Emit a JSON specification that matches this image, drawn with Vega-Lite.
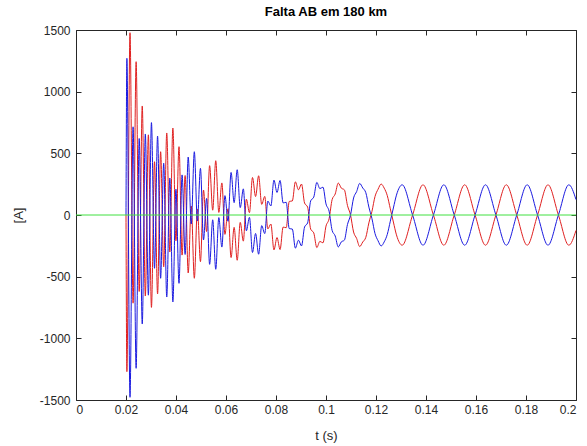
{
  "$schema": "https://vega.github.io/schema/vega-lite/v6.json",
  "width": 500,
  "height": 370,
  "autosize": {"type": "none"},
  "padding": {"left": 76, "top": 30, "right": 11, "bottom": 46},
  "background": "white",
  "config": {
    "view": {"stroke": "#262626", "strokeWidth": 1},
    "font": "Liberation Sans",
    "axis": {"grid": false, "domain": false, "tickColor": "#262626", "labelColor": "#262626", "titleColor": "#262626", "labelFontSize": 12, "titleFontSize": 13, "titleFontWeight": "normal", "tickSize": -5, "labelFont": "Liberation Sans", "titleFont": "Liberation Sans"}
  },
  "title": {"text": "Falta AB em 180 km", "fontSize": 13, "fontWeight": "bold", "color": "#000000", "offset": 5, "font": "Liberation Sans"},
  "data": {"values": [
    {"t": 0.02, "a": 0, "b": 0},
    {"t": 0.02035, "a": -1270, "b": 1270},
    {"t": 0.0216, "a": 1478, "b": -1478},
    {"t": 0.02283, "a": -715, "b": 715},
    {"t": 0.02405, "a": 1243, "b": -1243},
    {"t": 0.02528, "a": -620, "b": 620},
    {"t": 0.0265, "a": 884, "b": -884},
    {"t": 0.02773, "a": -657, "b": 657},
    {"t": 0.02895, "a": 650, "b": -650},
    {"t": 0.03018, "a": -749, "b": 749},
    {"t": 0.0314, "a": 432, "b": -432},
    {"t": 0.03263, "a": -640, "b": 640},
    {"t": 0.03385, "a": 513, "b": -513},
    {"t": 0.03508, "a": -420, "b": 420},
    {"t": 0.0363, "a": 665, "b": -665},
    {"t": 0.03753, "a": -300, "b": 300},
    {"t": 0.03875, "a": 705, "b": -705},
    {"t": 0.03998, "a": -209, "b": 209},
    {"t": 0.0412, "a": 554, "b": -554},
    {"t": 0.04243, "a": -325, "b": 325},
    {"t": 0.04365, "a": 320, "b": -320},
    {"t": 0.04488, "a": -470, "b": 470},
    {"t": 0.0461, "a": 73, "b": -73},
    {"t": 0.04733, "a": -513, "b": 513},
    {"t": 0.04855, "a": 49, "b": -49},
    {"t": 0.04978, "a": -378, "b": 378},
    {"t": 0.051, "a": 202, "b": -202},
    {"t": 0.05223, "a": -134, "b": 134},
    {"t": 0.05345, "a": 400, "b": -400},
    {"t": 0.05468, "a": 39, "b": -39},
    {"t": 0.0559, "a": 440, "b": -440},
    {"t": 0.05713, "a": 21, "b": -21},
    {"t": 0.05835, "a": 260, "b": -260},
    {"t": 0.05958, "a": -157, "b": 157},
    {"t": 0.0608, "a": 51, "b": -51},
    {"t": 0.06203, "a": -345, "b": 345},
    {"t": 0.06325, "a": -100, "b": 100},
    {"t": 0.06448, "a": -367, "b": 367},
    {"t": 0.0657, "a": -60, "b": 60},
    {"t": 0.06693, "a": -212, "b": 212},
    {"t": 0.06815, "a": 128, "b": -128},
    {"t": 0.06938, "a": 19, "b": -19},
    {"t": 0.0706, "a": 304, "b": -304},
    {"t": 0.07183, "a": 150, "b": -150},
    {"t": 0.07305, "a": 318, "b": -318},
    {"t": 0.07428, "a": 86, "b": -86},
    {"t": 0.0755, "a": 151, "b": -151},
    {"t": 0.07673, "a": -113, "b": 113},
    {"t": 0.07795, "a": -73, "b": 73},
    {"t": 0.07918, "a": -283, "b": 283},
    {"t": 0.0804, "a": -183, "b": 183},
    {"t": 0.08163, "a": -280, "b": 280},
    {"t": 0.08285, "a": -98, "b": 98},
    {"t": 0.08408, "a": -103, "b": 103},
    {"t": 0.0853, "a": 110, "b": -110},
    {"t": 0.08653, "a": 114, "b": -114},
    {"t": 0.08775, "a": 269, "b": -269},
    {"t": 0.08898, "a": 204, "b": -204},
    {"t": 0.0902, "a": 251, "b": -251},
    {"t": 0.09143, "a": 97, "b": -97},
    {"t": 0.09265, "a": 64, "b": -64},
    {"t": 0.09388, "a": -115, "b": 115},
    {"t": 0.0951, "a": -145, "b": 145},
    {"t": 0.09633, "a": -264, "b": 264},
    {"t": 0.09755, "a": -214, "b": 214},
    {"t": 0.09878, "a": -226, "b": 226},
    {"t": 0.1, "a": -90, "b": 90},
    {"t": 0.10123, "a": -31, "b": 31},
    {"t": 0.10245, "a": 125, "b": -125},
    {"t": 0.10368, "a": 170, "b": -170},
    {"t": 0.1049, "a": 259, "b": -259},
    {"t": 0.10613, "a": 218, "b": -218},
    {"t": 0.10735, "a": 204, "b": -204},
    {"t": 0.10858, "a": 78, "b": -78},
    {"t": 0.1098, "a": 1, "b": -1},
    {"t": 0.11103, "a": -138, "b": 138},
    {"t": 0.11225, "a": -190, "b": 190},
    {"t": 0.11348, "a": -256, "b": 256},
    {"t": 0.1147, "a": -219, "b": 219},
    {"t": 0.11593, "a": -181, "b": 181},
    {"t": 0.11715, "a": -64, "b": 64},
    {"t": 0.11838, "a": 29, "b": -29},
    {"t": 0.1196, "a": 150, "b": -150},
    {"t": 0.12083, "a": 209, "b": -209},
    {"t": 0.12205, "a": 251, "b": -251},
    {"t": 0.12328, "a": 218, "b": -218},
    {"t": 0.1245, "a": 158, "b": -158},
    {"t": 0.12573, "a": 50, "b": -50},
    {"t": 0.12695, "a": -57, "b": 57},
    {"t": 0.12818, "a": -161, "b": 161},
    {"t": 0.1294, "a": -225, "b": 225},
    {"t": 0.13047, "a": -245, "b": 245},
    {"t": 0.13464, "a": 0, "b": 0},
    {"t": 0.1388, "a": 245, "b": -245},
    {"t": 0.14297, "a": 0, "b": 0},
    {"t": 0.14713, "a": -245, "b": 245},
    {"t": 0.1513, "a": 0, "b": 0},
    {"t": 0.15547, "a": 245, "b": -245},
    {"t": 0.15963, "a": 0, "b": 0},
    {"t": 0.1638, "a": -245, "b": 245},
    {"t": 0.16797, "a": 0, "b": 0},
    {"t": 0.17213, "a": 245, "b": -245},
    {"t": 0.1763, "a": 0, "b": 0},
    {"t": 0.18047, "a": -245, "b": 245},
    {"t": 0.18463, "a": 0, "b": 0},
    {"t": 0.1888, "a": 245, "b": -245},
    {"t": 0.19297, "a": 0, "b": 0},
    {"t": 0.19713, "a": -245, "b": 245},
    {"t": 0.2, "a": -125, "b": 125}
  ]},
  "layer": [
    {
      "mark": {"type": "line", "color": "#e02020", "strokeWidth": 1, "interpolate": "monotone"},
      "encoding": {
        "x": {"field": "t", "type": "quantitative", "scale": {"domain": [0, 0.2], "nice": false, "zero": false},
              "axis": {"values": [0, 0.02, 0.04, 0.06, 0.08, 0.1, 0.12, 0.14, 0.16, 0.18, 0.2], "labelExpr": "'' + datum.value", "title": "t (s)", "labelPadding": 9, "titlePadding": 14}},
        "y": {"field": "a", "type": "quantitative", "scale": {"domain": [-1500, 1500], "nice": false},
              "axis": {"values": [-1500, -1000, -500, 0, 500, 1000, 1500], "labelExpr": "'' + datum.value", "title": "[A]", "labelPadding": 11, "titlePadding": 14}}
      }
    },
    {
      "mark": {"type": "line", "color": "#1a1ae0", "strokeWidth": 1, "interpolate": "monotone"},
      "encoding": {
        "x": {"field": "t", "type": "quantitative",
              "axis": {"orient": "top", "values": [0, 0.02, 0.04, 0.06, 0.08, 0.1, 0.12, 0.14, 0.16, 0.18, 0.2], "labels": false, "title": null}},
        "y": {"field": "b", "type": "quantitative",
              "axis": {"orient": "right", "values": [-1500, -1000, -500, 0, 500, 1000, 1500], "labels": false, "title": null}}
      }
    },
    {
      "data": {"values": [{"c": 0}]},
      "mark": {"type": "rule", "color": "#40e040", "strokeWidth": 1},
      "encoding": {
        "y": {"field": "c", "type": "quantitative", "axis": null}
      }
    }
  ],
  "resolve": {"axis": {"x": "independent", "y": "independent"}}
}
